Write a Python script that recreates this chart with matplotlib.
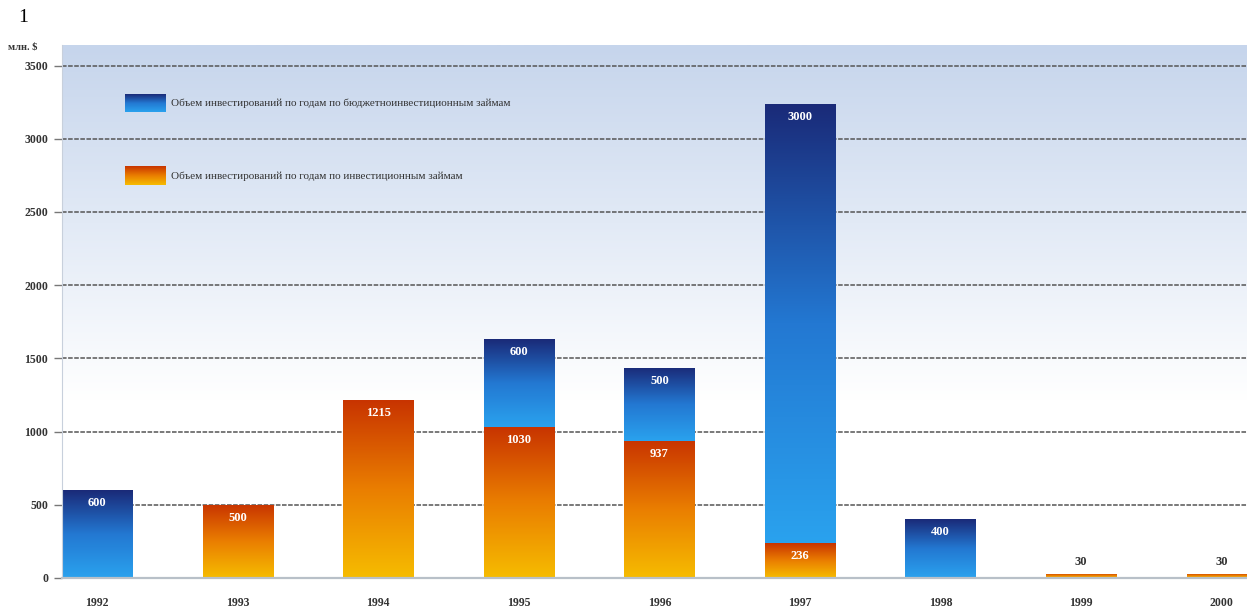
import matplotlib
matplotlib.use('Agg')
import matplotlib.pyplot as plt
import numpy as np
from matplotlib.colors import LinearSegmentedColormap

# Data (млн. $)
years = ['1992', '1993', '1994', '1995', '1996', '1997', '1998', '1999', '2000']
invest_loans = [0, 500, 1215, 1030, 937, 236, 0, 30, 30]      # инвестиционные займы
budget_loans = [600, 0, 0, 600, 500, 3000, 400, 0, 0]          # бюджетно-инвестиционные займы
legend_labels = ['Объем инвестирований по годам по бюджетноинвестиционным займам',
                 'Объем инвестирований по годам по инвестиционным займам']

blue_cmap = LinearSegmentedColormap.from_list('blue', ['#2aa2ee', '#2378d2', '#1a2a78'])
orange_cmap = LinearSegmentedColormap.from_list('orange', ['#f6bc00', '#ea7e00', '#c83400'])
bg_cmap = LinearSegmentedColormap.from_list('bg', ['#ffffff', '#ffffff', '#e2eaf6', '#c6d5ec'])

plt.rcParams['font.family'] = ['Liberation Serif', 'DejaVu Serif']

fig = plt.figure(figsize=(12.47, 6.15), dpi=100)
ax = fig.add_axes([62 / 1247, 37 / 615, 1 - 62 / 1247, 533 / 615])

x = np.arange(len(years))
grad = np.linspace(0, 1, 256).reshape(-1, 1)

# background gradient
ax.imshow(grad, cmap=bg_cmap, extent=[0, 1, 0, 1], origin='lower', aspect='auto',
          transform=ax.transAxes, zorder=0)

bars_o = ax.bar(x, invest_loans, width=0.5, color='none', zorder=2)
bars_b = ax.bar(x, budget_loans, width=0.5, bottom=invest_loans, color='none', zorder=2)


def fill_gradient(bars, cmap):
    for p in bars:
        h = p.get_height()
        if h <= 0:
            continue
        x0, y0, w = p.get_x(), p.get_y(), p.get_width()
        im = ax.imshow(grad, cmap=cmap, extent=[x0, x0 + w, y0, y0 + h], origin='lower',
                       aspect='auto', zorder=2)
        im.set_clip_path(p)


fill_gradient(bars_o, orange_cmap)
fill_gradient(bars_b, blue_cmap)

# value labels
for bars, vals in [(bars_o, invest_loans), (bars_b, budget_loans)]:
    for p, v in zip(bars, vals):
        if v <= 0:
            continue
        top = p.get_y() + p.get_height()
        if v < 100:
            ax.annotate(str(v), (p.get_x() + p.get_width() / 2, top), xytext=(0, 4),
                        textcoords='offset points', ha='center', va='bottom',
                        fontsize=9, fontweight='bold', color='#333333', zorder=4)
        else:
            ax.annotate(str(v), (p.get_x() + p.get_width() / 2, top), xytext=(0, -5),
                        textcoords='offset points', ha='center', va='top',
                        fontsize=9, fontweight='bold', color='white', zorder=4)

ax.set_xlim(-0.25, 8.18)
ax.set_ylim(0, 3640)
ax.set_yticks(range(0, 3501, 500))
ax.set_xticks(x)
ax.set_xticklabels(years)
ax.yaxis.grid(True, linestyle=(0, (3, 1)), color='#555555', linewidth=1.1, zorder=1)
ax.set_axisbelow(True)
ax.tick_params(axis='x', length=0, pad=14, labelsize=8.5, labelcolor='#333333')
ax.tick_params(axis='y', length=6, width=1, color='#777777', pad=4, labelsize=8.5,
               labelcolor='#333333')
for lbl in ax.get_xticklabels() + ax.get_yticklabels():
    lbl.set_fontweight('bold')
for s in ['top', 'right']:
    ax.spines[s].set_visible(False)
ax.spines['left'].set_color('#c8d0dc')
ax.spines['bottom'].set_color('#b8c0c8')
ax.spines['bottom'].set_linewidth(1.6)

# legend with gradient swatches
for (y0, y1), cmap, label in zip([(0.874, 0.906), (0.737, 0.771)], [blue_cmap, orange_cmap],
                                 legend_labels):
    ax.imshow(grad, cmap=cmap, extent=[0.053, 0.087, y0, y1], origin='lower', aspect='auto',
              transform=ax.transAxes, zorder=3)
    ax.text(0.092, (y0 + y1) / 2, label, transform=ax.transAxes, fontsize=8,
            va='center', ha='left', color='#333333', zorder=3)

fig.text(18 / 1247, 1 - 18 / 615, '1', fontsize=14, va='center', ha='left')
fig.text(8 / 1247, 1 - 47 / 615, 'млн. $', fontsize=7.5, fontweight='bold', va='center',
         ha='left', color='#333333')

fig.savefig('out.png', dpi=100)
